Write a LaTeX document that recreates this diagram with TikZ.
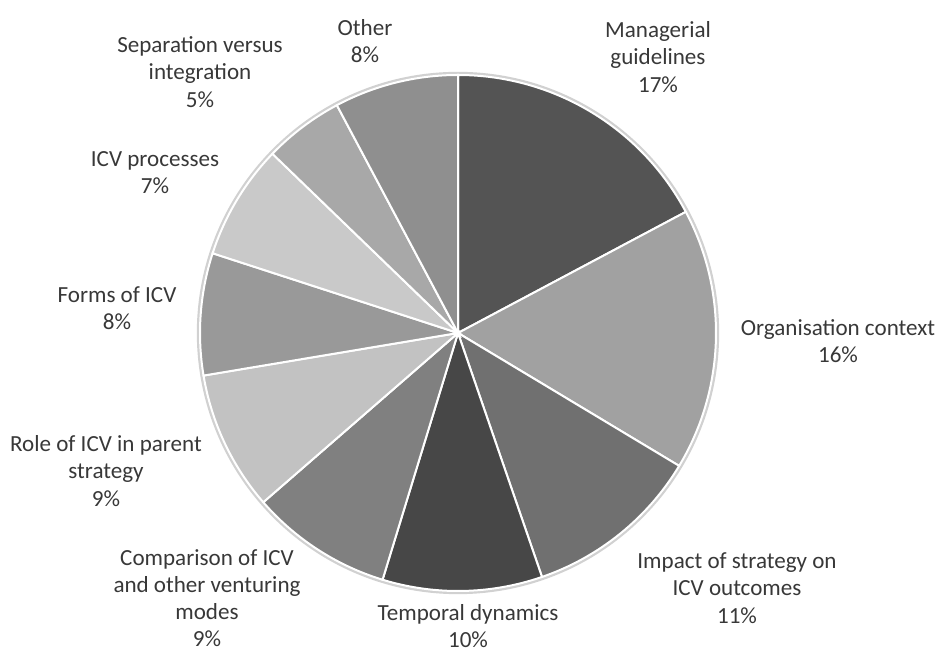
\documentclass[tikz,border=0pt]{standalone}
\usepackage{fontspec}
\setmainfont{Carlito}
\usepackage{tikz}

\begin{document}
\begin{tikzpicture}[x=0.75pt, y=0.75pt,
        labelnode/.style={align=center, text=black!78, inner sep=0pt, font=\fontsize{17.3}{20.4}\selectfont},
        slicenode/.style={draw=white, line width=1.5}]

        \useasboundingbox (0,0) rectangle (940,656);
        \coordinate (c) at (458,323);

        \draw[black!18, line width=2.5] (c) circle[radius=259.5];
        \foreach \from/\to/\tone in {28/90/67, -31/28/37, -71/-31/56, -107/-71/72, -139/-107/50,
                                      -170.5/-139/24, -198/-170.5/40, -224/-198/21, -242/-224/34, -270/-242/44}
            \filldraw[slicenode, fill=black!\tone] (c) -- +(\from:258) arc[start angle=\from, end angle=\to, radius=258] -- cycle;

        \node[labelnode] (managerial) at (658,599) {Managerial\\guidelines\\17\%};
        \node[labelnode] (context) at (838,315) {Organisation context\\16\%};
        \node[labelnode] (impact) at (737,68) {Impact of strategy on\\ICV outcomes\\11\%};
        \node[labelnode] (temporal) at (468,30) {Temporal dynamics\\10\%};
        \node[labelnode] (comparison) at (207,58) {Comparison of ICV\\and other venturing\\modes\\9\%};
        \node[labelnode] (role) at (106,185) {Role of ICV in parent\\strategy\\9\%};
        \node[labelnode] (forms) at (117,348) {Forms of ICV\\8\%};
        \node[labelnode] (processes) at (155,483) {ICV processes\\7\%};
        \node[labelnode] (separation) at (200,584) {Separation versus\\integration\\5\%};
        \node[labelnode] (other) at (365,615) {Other\\8\%};

        \end{tikzpicture}
\end{document}
